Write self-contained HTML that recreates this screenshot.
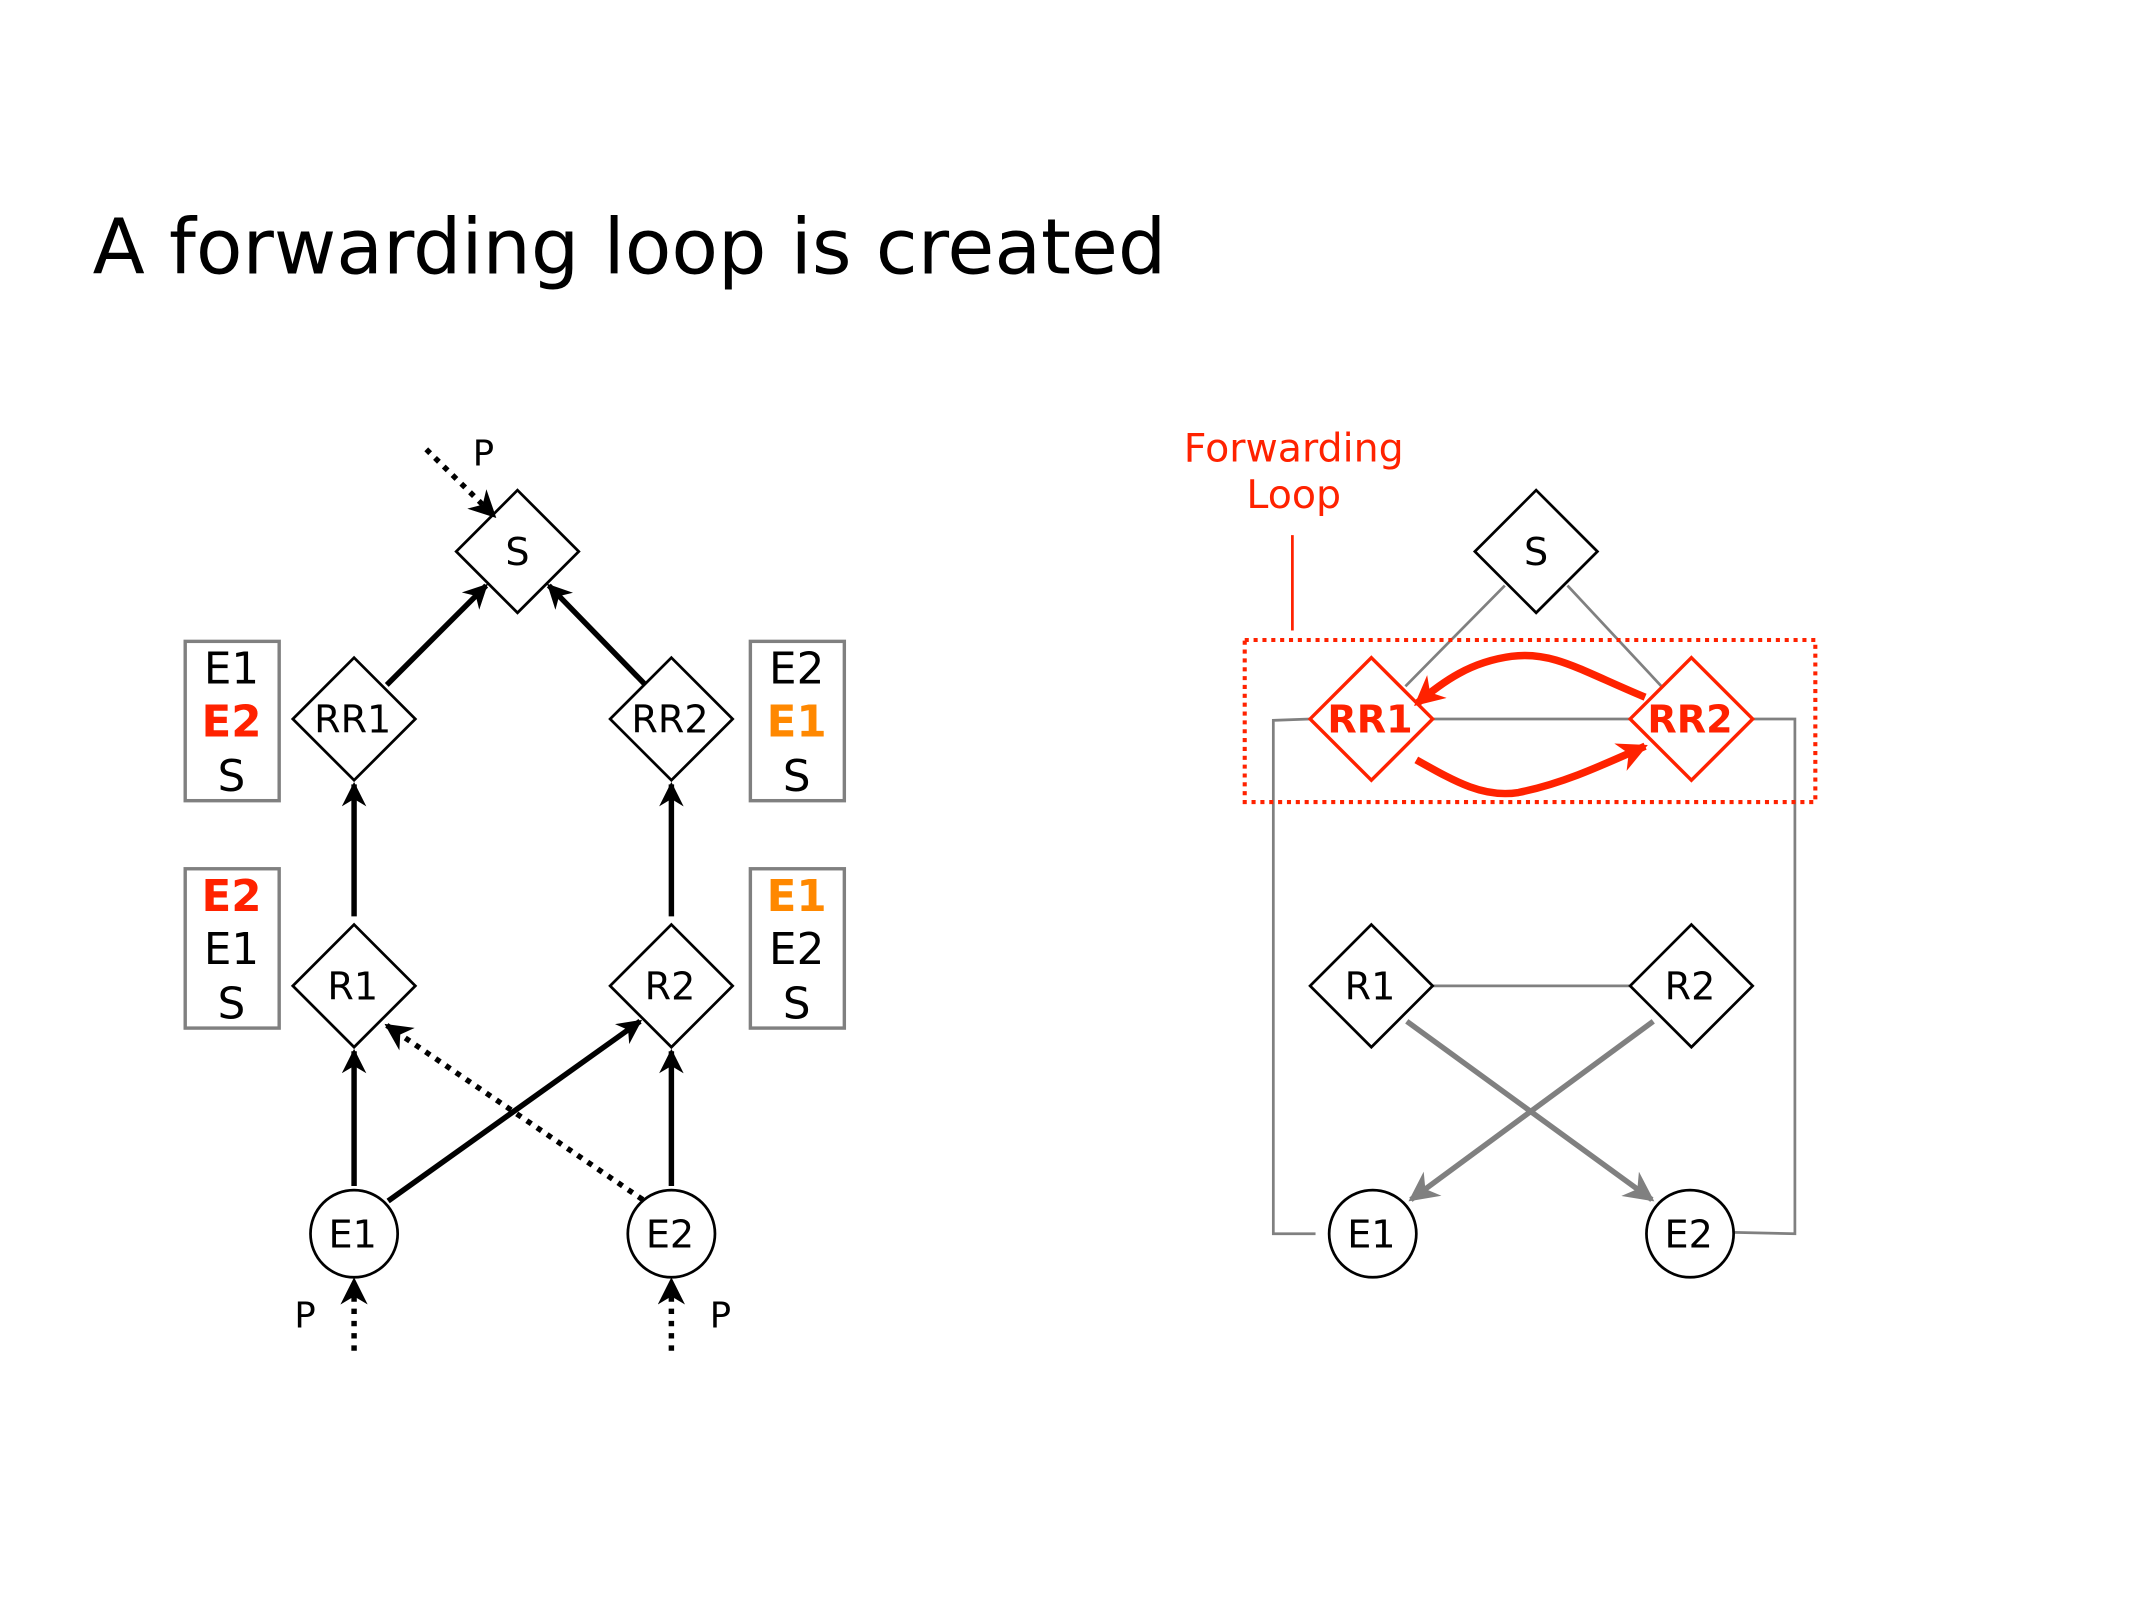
<!DOCTYPE html>
<html><head><meta charset="utf-8"><style>
html,body{margin:0;padding:0;background:#fff;}
svg{display:block;}
text{font-family:"DejaVu Sans","Liberation Sans",sans-serif;}
</style></head><body>
<svg width="2134" height="1600" viewBox="0 0 1567 1175" preserveAspectRatio="none" xmlns="http://www.w3.org/2000/svg">
<defs>
<marker id="ab" viewBox="0 0 10 10" refX="9" refY="5" markerWidth="4.5" markerHeight="4.5" orient="auto" markerUnits="strokeWidth"><path d="M0,0 L10,5 L0,10 L3,5 z" fill="#000"/></marker>
<marker id="abd" viewBox="0 0 10 10" refX="9" refY="5" markerWidth="5" markerHeight="5" orient="auto" markerUnits="strokeWidth"><path d="M0,0 L10,5 L0,10 L3,5 z" fill="#000"/></marker>
<marker id="ag" viewBox="0 0 10 10" refX="9" refY="5" markerWidth="5.5" markerHeight="5.5" orient="auto" markerUnits="strokeWidth"><path d="M0,0 L10,5 L0,10 L3,5 z" fill="#808080"/></marker>
<marker id="ar" viewBox="0 0 10 10" refX="9" refY="5" markerWidth="4" markerHeight="4" orient="auto" markerUnits="strokeWidth"><path d="M0,0 L10,5 L0,10 L3,5 z" fill="#ff2200"/></marker>
</defs>
<text x="68" y="201" font-size="56" fill="#000">A forwarding loop is created</text>

<!-- LEFT -->
<g fill="#fff" stroke="#000" stroke-width="2">
<path d="M380,360 L425,405 L380,450 L335,405 Z"/>
<path d="M260,483 L305,528 L260,573 L215,528 Z"/>
<path d="M493,483 L538,528 L493,573 L448,528 Z"/>
<path d="M260,679 L305,724 L260,769 L215,724 Z"/>
<path d="M493,679 L538,724 L493,769 L448,724 Z"/>
<circle cx="260" cy="906" r="32"/>
<circle cx="493" cy="906" r="32"/>
</g>
<g font-size="28" text-anchor="middle" fill="#000">
<text x="380" y="415">S</text>
<text x="259" y="538">RR1</text>
<text x="492" y="538">RR2</text>
<text x="259" y="734">R1</text>
<text x="492" y="734">R2</text>
<text x="259" y="916">E1</text>
<text x="492" y="916">E2</text>
<text x="355" y="342" font-size="26">P</text>
<text x="224" y="975" font-size="26">P</text>
<text x="529" y="975" font-size="26">P</text>
</g>
<g fill="#fff" stroke="#808080" stroke-width="2.5">
<rect x="136" y="471" width="69" height="117"/>
<rect x="136" y="638" width="69" height="117"/>
<rect x="551" y="471" width="69" height="117"/>
<rect x="551" y="638" width="69" height="117"/>
</g>
<g font-size="32" text-anchor="middle">
<text x="170" y="502" fill="#000">E1</text>
<text x="170" y="541" fill="#ff2200" font-weight="bold">E2</text>
<text x="170" y="581" fill="#000">S</text>
<text x="170" y="669" fill="#ff2200" font-weight="bold">E2</text>
<text x="170" y="708" fill="#000">E1</text>
<text x="170" y="748" fill="#000">S</text>
<text x="585" y="502" fill="#000">E2</text>
<text x="585" y="541" fill="#ff8800" font-weight="bold">E1</text>
<text x="585" y="581" fill="#000">S</text>
<text x="585" y="669" fill="#ff8800" font-weight="bold">E1</text>
<text x="585" y="708" fill="#000">E2</text>
<text x="585" y="748" fill="#000">S</text>
</g>
<g stroke="#000" stroke-width="4" fill="none" marker-end="url(#ab)">
<line x1="284" y1="503" x2="357" y2="430"/>
<line x1="474" y1="503" x2="403" y2="430"/>
<line x1="260" y1="673" x2="260" y2="576"/>
<line x1="493" y1="673" x2="493" y2="576"/>
<line x1="260" y1="871" x2="260" y2="772"/>
<line x1="493" y1="871" x2="493" y2="772"/>
<line x1="285" y1="882" x2="470" y2="750"/>
</g>
<g stroke="#000" stroke-width="4" fill="none" stroke-dasharray="4,5" marker-end="url(#abd)">
<line x1="472" y1="881" x2="284" y2="753"/>
<line x1="313" y1="330" x2="363" y2="379"/>
<line x1="260" y1="992" x2="260" y2="940"/>
<line x1="493" y1="992" x2="493" y2="940"/>
</g>

<!-- RIGHT -->
<g stroke="#808080" stroke-width="2" fill="none">
<line x1="1105" y1="430" x2="1032" y2="504"/>
<line x1="1151" y1="430" x2="1220" y2="504"/>
<line x1="1052" y1="528" x2="1197" y2="528"/>
<line x1="1052" y1="724" x2="1197" y2="724"/>
<polyline points="962,528 935,529 935,906 966,906"/>
<polyline points="1287,528 1318,528 1318,906 1273,905"/>
</g>
<g stroke="#808080" stroke-width="4" fill="none" marker-end="url(#ag)">
<line x1="1033" y1="750" x2="1213" y2="881"/>
<line x1="1214" y1="750" x2="1036" y2="881"/>
</g>
<g fill="#fff" stroke="#000" stroke-width="2">
<path d="M1128,360 L1173,405 L1128,450 L1083,405 Z"/>
<path d="M1007,679 L1052,724 L1007,769 L962,724 Z"/>
<path d="M1242,679 L1287,724 L1242,769 L1197,724 Z"/>
<circle cx="1008" cy="906" r="32"/>
<circle cx="1241" cy="906" r="32"/>
</g>
<g fill="none" stroke="#ff2200" stroke-width="2.5">
<path d="M1007,483 L1052,528 L1007,573 L962,528 Z"/>
<path d="M1242,483 L1287,528 L1242,573 L1197,528 Z"/>
</g>
<rect x="914" y="470" width="419" height="119" fill="none" stroke="#ff2200" stroke-width="3" stroke-dasharray="3,3.5"/>
<line x1="949" y1="393" x2="949" y2="463" stroke="#ff2200" stroke-width="2"/>
<g font-size="28" text-anchor="middle" fill="#000">
<text x="1128" y="415">S</text>
<text x="1006" y="734">R1</text>
<text x="1241" y="734">R2</text>
<text x="1007" y="916">E1</text>
<text x="1240" y="916">E2</text>
</g>
<g font-size="28" text-anchor="middle" fill="#ff2200" font-weight="bold">
<text x="1006" y="538">RR1</text>
<text x="1241" y="538">RR2</text>
</g>
<g font-size="29" text-anchor="middle" fill="#ff2200">
<text x="950" y="339">Forwarding</text>
<text x="950" y="373">Loop</text>
</g>
<g stroke="#ff2200" stroke-width="5.5" fill="none" marker-end="url(#ar)">
<path d="M1208,512 C1160,492 1140,478 1110,482 C1080,486 1060,500 1040,517"/>
<path d="M1040,558 C1070,575 1090,586 1115,582 C1145,576 1170,565 1208,548"/>
</g>
</svg>
</body></html>
